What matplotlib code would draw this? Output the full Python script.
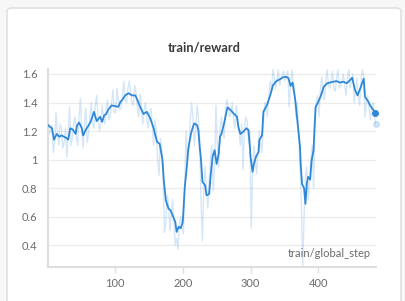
import matplotlib
matplotlib.use("Agg")
import matplotlib.pyplot as plt
from matplotlib.patches import FancyBboxPatch
import numpy as np

title = "train/reward"
x_label = "train/global_step"
x_ticks = [100, 200, 300, 400]
y_ticks = [0.4, 0.6, 0.8, 1.0, 1.2, 1.4, 1.6]
y_tick_labels = ["0.4", "0.6", "0.8", "1", "1.2", "1.4", "1.6"]

# raw (unsmoothed) reward at steps 1, 5, 9, ...
raw_steps_a = list(range(1, 486, 4))
raw_values_a = [
    1.27, 1.20, 1.05, 1.33, 1.10, 1.22, 1.12, 1.02, 1.37, 1.15,
    1.30, 1.10, 1.43, 1.08, 1.36, 1.18, 1.40, 1.22, 1.45, 1.20,
    1.38, 1.25, 1.42, 1.30, 1.49, 1.33, 1.42, 1.36, 1.55, 1.40,
    1.55, 1.40, 1.52, 1.36, 1.46, 1.25, 1.40, 1.22, 1.36, 1.10,
    1.20, 0.89, 1.08, 0.49, 0.75, 0.50, 0.72, 0.40, 0.37, 0.60,
    0.48, 1.20, 1.05, 1.40, 1.10, 1.38, 1.12, 0.43, 0.95, 0.66,
    1.02, 0.78, 1.38, 0.95, 1.30, 1.15, 1.42, 1.30, 1.40, 1.22,
    1.30, 1.10, 0.93, 1.30, 1.12, 0.52, 1.10, 0.90, 1.20, 1.05,
    1.40, 1.30, 1.55, 1.63, 1.50, 1.63, 1.56, 1.62, 1.60, 1.37,
    1.63, 1.50, 1.40, 0.95, 0.25, 0.88, 0.72, 1.00, 0.80, 1.40,
    1.30, 1.58, 1.42, 1.63, 1.50, 1.62, 1.48, 1.63, 1.52, 1.60,
    1.45, 1.63, 1.55, 1.40, 1.57, 1.38, 1.63, 1.30, 1.45, 1.28,
    1.40, 1.25,
]
# raw reward at steps 3, 7, 11, ...
raw_steps_b = list(range(3, 484, 4))
raw_values_b = [
    1.18, 1.24, 1.12, 1.20, 1.25, 1.08, 1.22, 1.20, 1.10, 1.26,
    1.15, 1.30, 1.20, 1.25, 1.12, 1.30, 1.25, 1.38, 1.30, 1.24,
    1.30, 1.36, 1.28, 1.40, 1.33, 1.50, 1.35, 1.45, 1.42, 1.50,
    1.48, 1.38, 1.47, 1.30, 1.38, 1.35, 1.28, 1.32, 1.25, 1.28,
    1.00, 1.15, 0.90, 0.55, 0.70, 0.62, 0.58, 0.45, 0.55, 0.52,
    0.85, 1.00, 1.28, 1.30, 1.20, 1.30, 0.70, 0.80, 0.78, 0.85,
    1.10, 0.95, 1.10, 1.22, 1.20, 1.35, 1.38, 1.32, 1.28, 1.38,
    1.20, 1.25, 1.22, 1.27, 1.20, 0.90, 1.00, 1.08, 1.12, 1.25,
    1.36, 1.45, 1.48, 1.58, 1.56, 1.52, 1.60, 1.55, 1.62, 1.52,
    1.55, 1.30, 1.20, 0.70, 0.60, 0.95, 0.85, 1.10, 1.20, 1.45,
    1.48, 1.50, 1.55, 1.52, 1.56, 1.50, 1.58, 1.50, 1.55, 1.52,
    1.58, 1.50, 1.60, 1.48, 1.45, 1.55, 1.58, 1.40, 1.35, 1.38,
    1.30,
]

# smoothed reward
smooth_steps = [
    2, 4, 7, 10, 14, 18, 21, 25, 29, 31, 34, 38, 42, 44, 47, 51, 53, 57, 61,
    64, 69, 73, 78, 81, 84, 87, 90, 95, 100, 105, 108, 111, 115, 120, 125,
    130, 132, 137, 142, 147, 152, 157, 162, 166, 170, 172, 175, 179, 182,
    185, 189, 191, 194, 197, 200, 203, 206, 208, 212, 215, 217, 221, 223,
    225, 227, 229, 233, 235, 239, 241, 244, 247, 250, 253, 255, 257, 261,
    264, 266, 270, 275, 280, 282, 285, 289, 294, 297, 299, 300, 303, 305,
    308, 312, 313, 317, 319, 324, 329, 333, 338, 344, 348, 353, 356, 359,
    362, 366, 370, 373, 374, 376, 379, 381, 383, 385, 388, 390, 393, 394,
    396, 400, 404, 408, 413, 417, 422, 427, 432, 437, 442, 447, 450, 454,
    458, 462, 467, 469, 474, 477, 481, 484,
]
smooth_values = [
    1.24, 1.23, 1.22, 1.14, 1.18, 1.16, 1.17, 1.16, 1.15, 1.14, 1.22, 1.21,
    1.18, 1.24, 1.26, 1.22, 1.17, 1.21, 1.24, 1.265, 1.335, 1.27, 1.30,
    1.265, 1.31, 1.32, 1.35, 1.38, 1.375, 1.37, 1.405, 1.42, 1.45, 1.465,
    1.45, 1.45, 1.43, 1.37, 1.32, 1.335, 1.29, 1.22, 1.125, 1.11, 1.0,
    0.856, 0.716, 0.657, 0.645, 0.61, 0.563, 0.494, 0.53, 0.52, 0.563,
    0.81, 0.95, 1.07, 1.18, 1.23, 1.254, 1.242, 1.207, 1.09, 0.996, 0.845,
    0.82, 0.75, 0.76, 0.88, 1.02, 1.067, 0.97, 1.04, 1.16, 1.18, 1.254,
    1.324, 1.366, 1.35, 1.324, 1.30, 1.23, 1.18, 1.195, 1.22, 1.207, 1.09,
    1.02, 0.915, 0.97, 1.02, 1.055, 1.137, 1.17, 1.335, 1.38, 1.45, 1.52,
    1.55, 1.565, 1.577, 1.58, 1.57, 1.516, 1.54, 1.418, 1.23, 1.09, 0.97,
    0.83, 0.80, 0.69, 0.83, 0.88, 0.86, 0.99, 1.067, 1.18, 1.37, 1.405,
    1.45, 1.51, 1.535, 1.54, 1.546, 1.55, 1.54, 1.546, 1.535, 1.558, 1.574,
    1.49, 1.45, 1.50, 1.567, 1.44, 1.405, 1.375, 1.35, 1.324,
]

raw_pairs = sorted(zip(raw_steps_a + raw_steps_b, raw_values_a + raw_values_b))
raw_steps = [p[0] for p in raw_pairs]
raw_values = [p[1] for p in raw_pairs]

W, H = 406, 301
fig = plt.figure(figsize=(W / 100, H / 100), dpi=100)
fig.patch.set_facecolor("#f7f7f7")

card = FancyBboxPatch((7 / W, -10 / H), (394 / W), (303 / H),
                      boxstyle="round,pad=0,rounding_size=0.012",
                      transform=fig.transFigure, facecolor="white",
                      edgecolor="#dcdcdc", linewidth=1.0, zorder=-5)
fig.patches.append(card)

fig.text(204.5 / W, 1 - 48 / H, title, ha="center", va="center",
         fontsize=9.2, fontweight="bold", color="#3a3a3a", family="Lato")

ax = fig.add_axes([48.3 / W, 1 - 267.3 / H, (375.7 - 48.3) / W, (267.3 - 69) / H])
ax.set_facecolor("none")

blue = "#2f87d8"
ax.plot(raw_steps, raw_values, color=blue, alpha=0.2, linewidth=1.0, zorder=2)
ax.plot(smooth_steps, smooth_values, color=blue, linewidth=1.3, zorder=3)
ax.plot([raw_steps[-1]], [raw_values[-1]], "o", color=blue, alpha=0.2,
        markersize=4, zorder=3, clip_on=False)
ax.plot([smooth_steps[-1]], [smooth_values[-1]], "o", color=blue,
        markersize=4, zorder=4, clip_on=False)

ax.set_xlim(1.6, 484.7)
ax.set_ylim(0.246, 1.635)
ax.set_xticks(x_ticks)
ax.set_xticklabels([str(t) for t in x_ticks])
ax.set_yticks(y_ticks)
ax.set_yticklabels(y_tick_labels)
ax.grid(axis="y", color="#ececec", linewidth=0.9)
ax.set_axisbelow(True)

for side in ["top", "right"]:
    ax.spines[side].set_visible(False)
for side in ["left", "bottom"]:
    ax.spines[side].set_color("#dedede")
    ax.spines[side].set_linewidth(1.5)

ax.tick_params(axis="y", length=0, pad=8, labelsize=8, labelcolor="#6b6b6b")
ax.tick_params(axis="x", length=4, width=1, color="#dedede", pad=4,
               labelsize=8, labelcolor="#6b6b6b")
for lab in ax.get_xticklabels() + ax.get_yticklabels():
    lab.set_family("Lato")

ax.text(0.985, 0.04, x_label, transform=ax.transAxes, ha="right",
        va="bottom", fontsize=8, color="#6b6b6b", family="Lato")

fig.savefig("out.png", dpi=100)
